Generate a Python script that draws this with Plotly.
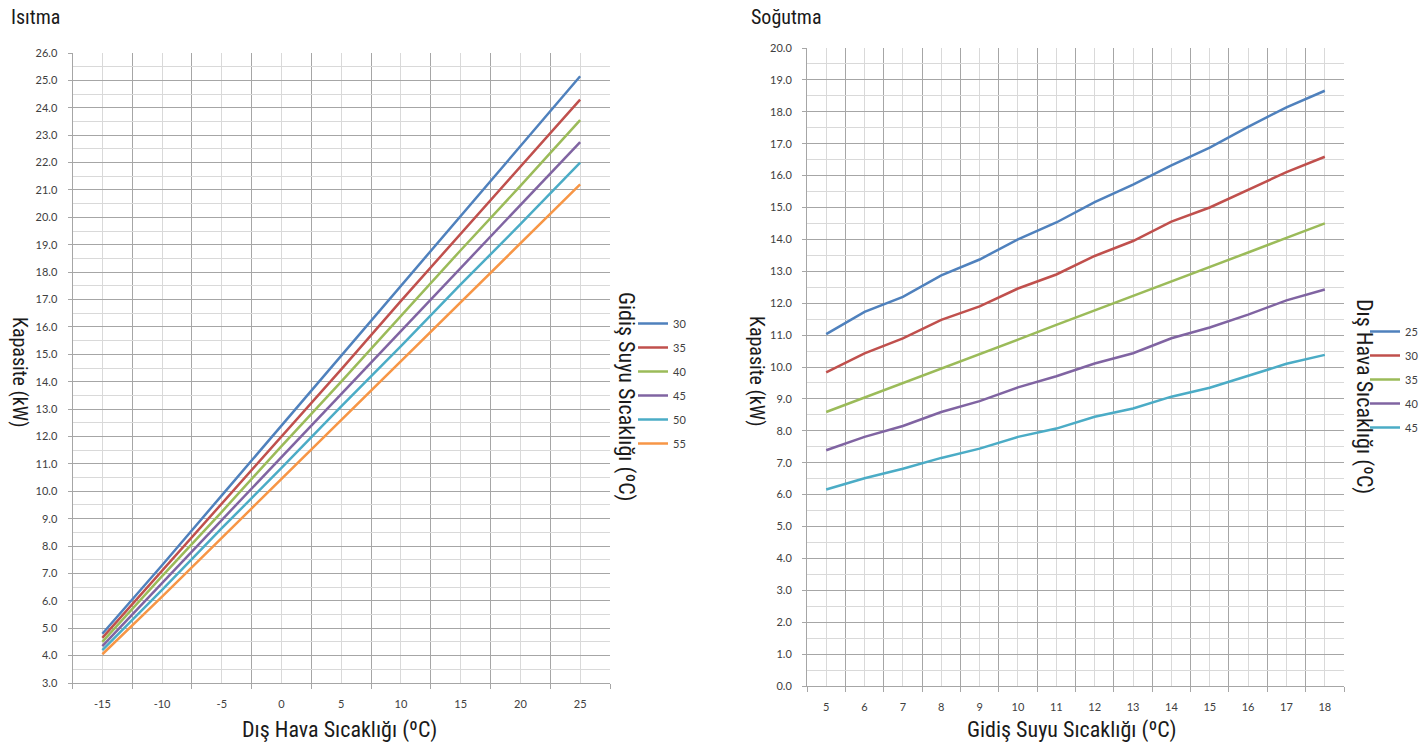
import plotly.graph_objects as go

W, H = 1424, 750

# ---------------- data ----------------
heat_x = [-15, -10, -5, 0, 5, 10, 15, 20, 25]
heat_names = ["30", "35", "40", "45", "50", "55"]
heat_30 = [4.8, 7.3, 9.85, 12.4, 14.95, 17.5, 20.05, 22.6, 25.15]
heat_35 = [4.65, 7.1, 9.55, 12.0, 14.45, 16.95, 19.4, 21.85, 24.3]
heat_40 = [4.5, 6.9, 9.25, 11.65, 14.0, 16.4, 18.8, 21.15, 23.55]
heat_45 = [4.35, 6.65, 8.95, 11.25, 13.55, 15.85, 18.15, 20.45, 22.75]
heat_50 = [4.2, 6.4, 8.65, 10.85, 13.1, 15.3, 17.55, 19.75, 22.0]
heat_55 = [4.05, 6.15, 8.3, 10.45, 12.6, 14.75, 16.9, 19.05, 21.2]

cool_x = [5, 6, 7, 8, 9, 10, 11, 12, 13, 14, 15, 16, 17, 18]
cool_names = ["25", "30", "35", "40", "45"]
cool_25 = [11.03, 11.73, 12.2, 12.87, 13.37, 14.0, 14.53, 15.17, 15.72, 16.32, 16.88, 17.53, 18.14, 18.66]
cool_30 = [9.83, 10.43, 10.9, 11.48, 11.9, 12.46, 12.9, 13.48, 13.95, 14.56, 15.0, 15.56, 16.11, 16.59]
cool_35 = [8.59, 9.04, 9.5, 9.95, 10.41, 10.86, 11.32, 11.77, 12.23, 12.68, 13.14, 13.59, 14.05, 14.5]
cool_40 = [7.39, 7.81, 8.15, 8.59, 8.93, 9.36, 9.71, 10.11, 10.43, 10.9, 11.24, 11.64, 12.09, 12.43]
cool_45 = [6.16, 6.51, 6.81, 7.15, 7.44, 7.81, 8.07, 8.44, 8.7, 9.07, 9.35, 9.73, 10.1, 10.38]

heat_series = [heat_30, heat_35, heat_40, heat_45, heat_50, heat_55]
cool_series = [cool_25, cool_30, cool_35, cool_40, cool_45]

colors = ["#4F81BD", "#C0504D", "#9BBB59", "#8064A2", "#4BACC6", "#F79646"]

# ---------------- styles ----------------
TICK_FONT = dict(family="Lato, Carlito, 'Open Sans', sans-serif", size=11, color="#404040")
TITLE_FAMILY = "'Liberation Sans Narrow', 'Roboto Condensed', 'DejaVu Sans Condensed', sans-serif"
DARK = "#a6a6a6"
LIGHT = "#d9d9d9"


def px(x):
    return x / W


def py(y):
    return 1 - y / H


fig = go.Figure()

for name, vals, col in zip(heat_names, heat_series, colors):
    fig.add_trace(go.Scatter(x=heat_x, y=vals, name=name, mode="lines",
                             line=dict(color=col, width=2.5),
                             xaxis="x", yaxis="y", legend="legend",
                             legendgroup="h" + name))

for name, vals, col in zip(cool_names, cool_series, colors):
    fig.add_trace(go.Scatter(x=cool_x, y=vals, name=name, mode="lines",
                             line=dict(color=col, width=2.5),
                             xaxis="x2", yaxis="y2", legend="legend2",
                             legendgroup="c" + name))


def xaxis_cfg(cats, domain, anchor):
    step = cats[1] - cats[0]
    bounds = [c - step / 2 for c in cats] + [cats[-1] + step / 2]
    return dict(domain=domain, anchor=anchor, automargin=False,
                range=[bounds[0], bounds[-1]],
                tickmode="array", tickvals=cats, ticktext=[str(c) for c in cats],
                showgrid=True, gridcolor=LIGHT, gridwidth=1,
                ticks="", zeroline=False,
                showline=True, linecolor=DARK, linewidth=1,
                tickfont=TICK_FONT, ticklabelstandoff=11,
                minor=dict(tickmode="array", tickvals=bounds, showgrid=True,
                           gridcolor=DARK, gridwidth=1, ticks="outside",
                           ticklen=5, tickcolor=DARK))


def yaxis_cfg(rng, domain, anchor):
    return dict(domain=domain, anchor=anchor, range=rng, automargin=False,
                tick0=0, dtick=1, tickformat=".1f",
                showgrid=True, gridcolor=DARK, gridwidth=1,
                ticks="outside", ticklen=4, tickcolor=DARK,
                zeroline=False, showline=True, linecolor=DARK, linewidth=1,
                tickfont=TICK_FONT, ticklabelstandoff=8,
                minor=dict(dtick=0.5, showgrid=True, gridcolor=LIGHT, gridwidth=1))


fig.update_layout(
    width=W, height=H, autosize=False,
    margin=dict(l=0, r=0, t=0, b=0, pad=0),
    paper_bgcolor="white", plot_bgcolor="white",
    xaxis=xaxis_cfg(heat_x, [px(72.5), px(610)], "y"),
    yaxis=yaxis_cfg([3, 26], [py(683), py(53)], "x"),
    xaxis2=xaxis_cfg(cool_x, [px(807), px(1344)], "y2"),
    yaxis2=yaxis_cfg([0, 20], [py(686), py(48)], "x2"),
    legend=dict(x=px(633), y=py(309), xanchor="left", yanchor="top",
                font=TICK_FONT, tracegroupgap=5, bgcolor="rgba(0,0,0,0)"),
    legend2=dict(x=1.0, y=py(317), xanchor="right", yanchor="top",
                 font=TICK_FONT, tracegroupgap=5, bgcolor="rgba(0,0,0,0)"),
    showlegend=True,
)

ann_font = dict(family=TITLE_FAMILY, size=20, color="#1a1a1a")
ytt_font = dict(family=TITLE_FAMILY, size=20, color="#1a1a1a")
axt_font = dict(family=TITLE_FAMILY, size=22, color="#1a1a1a")

annotations = [
    dict(text="Isıtma", x=px(9), y=py(17), xanchor="left", yanchor="middle", font=ann_font),
    dict(text="Soğutma", x=px(749), y=py(17), xanchor="left", yanchor="middle", font=ann_font),
    dict(text="Kapasite (kW)", x=px(20), y=py(372), textangle=90, font=ytt_font),
    dict(text="Dış Hava Sıcaklığı (ºC)", x=px(339), y=py(730), font=axt_font),
    dict(text="Gidiş Suyu Sıcaklığı (ºC)", x=px(626), y=py(396), textangle=90, font=axt_font),
    dict(text="Kapasite (kW)", x=px(757), y=py(371), textangle=90, font=ytt_font),
    dict(text="Gidiş Suyu Sıcaklığı (ºC)", x=px(1071), y=py(730), font=axt_font),
    dict(text="Dış Hava Sıcaklığı (ºC)", x=px(1364), y=py(396), textangle=90, font=axt_font),
]
for a in annotations:
    a.update(xref="paper", yref="paper", showarrow=False)
    a.setdefault("xanchor", "center")
    a.setdefault("yanchor", "middle")
fig.update_layout(annotations=annotations)

fig.write_html(
    "out.html",
    config={"displayModeBar": False},
    post_script="document.body.style.margin='0';document.body.style.overflow='hidden';",
)
